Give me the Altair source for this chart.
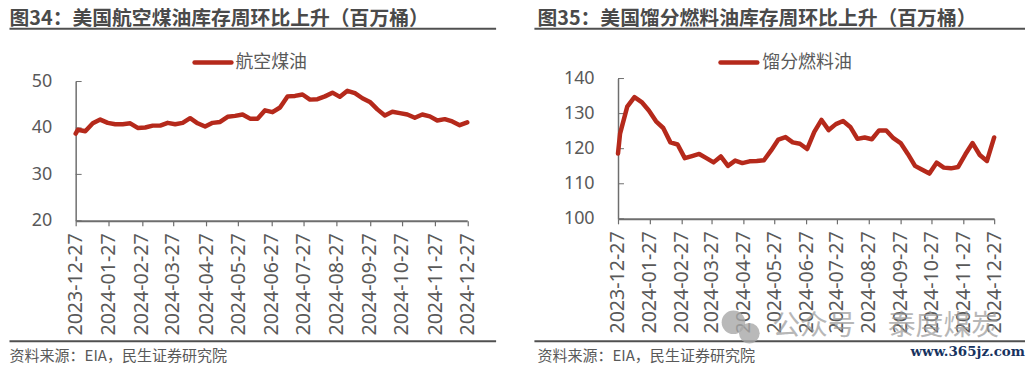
import altair as alt
import pandas as pd

FONT = "Noto Sans CJK SC"
RED = "#B5291B"
TXT = "#595959"
AXIS = "#6E6E6E"

DATES = ["2023-12-27", "2023-12-29"] + [d.strftime("%Y-%m-%d") for d in pd.date_range("2024-01-05", "2024-12-27", freq="7D")]
TICKS = ["2023-12-27", "2024-01-27", "2024-02-27", "2024-03-27", "2024-04-27", "2024-05-27", "2024-06-27",
         "2024-07-27", "2024-08-27", "2024-09-27", "2024-10-27", "2024-11-27", "2024-12-27"]

JET = [38.8, 39.6, 39.3, 41.0, 41.8, 41.1, 40.8, 40.8, 41.0, 40.0, 40.1, 40.5, 40.5, 41.1, 40.8, 41.1, 42.1, 41.0,
       40.3, 41.1, 41.3, 42.4, 42.6, 42.9, 42.0, 42.0, 43.8, 43.4, 44.4, 46.8, 46.9, 47.2, 46.1, 46.2, 46.8, 47.6,
       46.7, 48.0, 47.5, 46.4, 45.6, 44.0, 42.7, 43.5, 43.2, 42.9, 42.2, 42.9, 42.5, 41.6, 41.9, 41.4, 40.6, 41.2]
DIST = [118.6, 124.3, 132.0, 134.7, 133.3, 130.9, 127.8, 125.9, 121.8, 121.2, 117.3, 117.9, 118.5, 117.3, 116.1,
        117.8, 115.1, 116.6, 115.9, 116.4, 116.5, 116.7, 119.5, 122.6, 123.3, 121.8, 121.4, 119.9, 124.8, 128.2,
        125.3, 127.0, 127.9, 126.2, 122.8, 123.2, 122.7, 125.2, 125.2, 123.0, 121.6, 118.5, 115.1, 114.0, 112.9,
        116.0, 114.6, 114.4, 114.8, 118.4, 121.6, 118.2, 116.5, 123.2]


def dt(s):
    y, m, d = s.split("-")
    return alt.DateTime(year=int(y), month=int(m), date=int(d), utc=True)


ONE = alt.Data(values=[{"k": 1}])
TOP = 78  # both views start here on the page; the y range insets the left one


def label(text, x, y, size, color=TXT, weight="normal", align="left", font=FONT, opacity=1):
    return alt.Chart(ONE).mark_text(text=text, fontSize=size, color=color, fontWeight=weight, align=align,
                                    baseline="middle", font=font, opacity=opacity).encode(
        x=alt.value(x), y=alt.value(y))


def hline(x1, x2, y, color, w, cap="butt"):
    return alt.Chart(ONE).mark_rule(color=color, strokeWidth=w, strokeCap=cap).encode(
        x=alt.value(x1), x2=alt.value(x2), y=alt.value(y))


def panel(vals, name, title, domain, yticks, w, h, inset, rule_left, text_left, rule_right, lx, ltx, extra=None):
    df = pd.DataFrame({"date": DATES, "v": vals})
    x = alt.X("date:T", title=None, scale=alt.Scale(type="utc", domain=[dt(DATES[0]), dt(DATES[-1])]),
              axis=alt.Axis(values=[dt(t) for t in TICKS], labelExpr="utcFormat(datum.value,'%Y-%m-%d')", labelAngle=270,
                            labelAlign="right", labelBaseline="middle", labelFontSize=19.7, labelColor=TXT,
                            labelFont="Noto Sans", labelPadding=7, tickSize=5, tickColor=AXIS, tickWidth=1.2,
                            domainColor=AXIS, domainWidth=2, grid=False, labelOverlap=False, labelFlush=False))
    y = alt.Y("v:Q", title=None, scale=alt.Scale(domain=domain, nice=False, zero=False, range=[h, inset]),
              axis=alt.Axis(values=yticks, labelFontSize=18, labelColor=TXT, labelFont="Noto Sans", labelPadding=24,
                            tickSize=0, domainColor=AXIS, domainWidth=1.5, grid=False))
    line = alt.Chart(df).mark_line(color=RED, strokeWidth=4.5, strokeJoin="round", strokeCap="round", clip=False).encode(x=x, y=y)
    ticks = alt.Chart(pd.DataFrame({"v": yticks})).mark_rule(color=AXIS, strokeWidth=1).encode(
        x=alt.value(0), x2=alt.value(6), y=y)
    layers = [ticks, line,
              label(title, text_left, 18 - TOP, 19.9, color="#4A4A4A", weight="bold"),
              hline(rule_left, rule_right, 28 - TOP, "#505050", 2),
              hline(rule_left, rule_right, 342 - TOP, "#505050", 2),
              label("资料来源：EIA，民生证券研究院", text_left, 357 - TOP, 15.1),
              hline(lx, lx + 37, 62 - TOP, RED, 4.5, "round"),
              label(name, ltx, 62 - TOP, 18)]
    if extra:
        layers += extra()
    return alt.layer(*layers).properties(width=w, height=h)


def marks():
    x0 = 617
    def c(x, y, s):
        return alt.Chart(ONE).mark_point(filled=True, color="#A8A8A8", opacity=0.8, size=s, shape="circle").encode(
            x=alt.value(x - x0), y=alt.value(y - TOP))
    return [c(733, 323, 560), c(749, 334, 430),
            label("公众号", 772 - x0, 328 - TOP, 28, color="#9A9A9A", opacity=0.7),
            label("泰度煤炭", 888 - x0, 328 - TOP, 28, color="#9A9A9A", opacity=0.7),
            label("www.365jz.com", 1026 - x0, 353 - TOP, 13.5, color="#17335F", weight="bold", align="right", font="DejaVu Serif")]


left = panel(JET, "航空煤油", "图34：美国航空煤油库存周环比上升（百万桶）", [20, 50], [20, 30, 40, 50],
             393.5, 143, 3, -66.5, -66.5, 422.5, 119.5, 160.5)
right = panel(DIST, "馏分燃料油", "图35：美国馏分燃料油库存周环比上升（百万桶）", [100, 140], [100, 110, 120, 130, 140],
              378, 141, 0, -84, -81, 409, 103, 145, marks)

chart = alt.hconcat(left, right, spacing=36).properties(padding=0, background="white").configure_view(stroke=None)
chart.save("out.html", embed_options={"renderer": "svg", "actions": False})
